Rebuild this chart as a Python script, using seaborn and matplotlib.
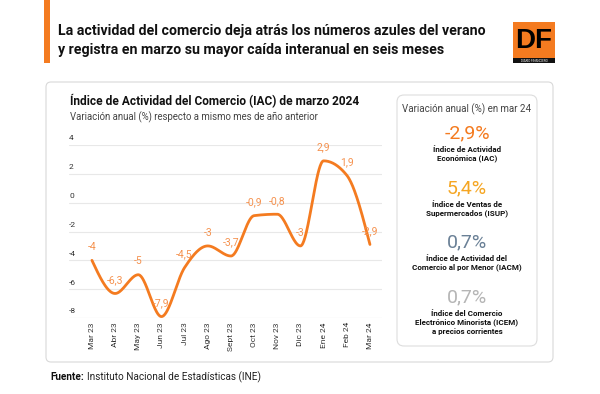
import numpy as np
import matplotlib
matplotlib.use("Agg")
import matplotlib.pyplot as plt
from matplotlib.patches import FancyBboxPatch, Rectangle
import seaborn as sns

# datos
meses = ["Mar 23", "Abr 23", "May 23", "Jun 23", "Jul 23", "Ago 23", "Sept 23",
         "Oct 23", "Nov 23", "Dic 23", "Ene 24", "Feb 24", "Mar 24"]
iac = [-4, -6.3, -5, -7.9, -4.5, -3, -3.7, -0.9, -0.8, -3, 2.9, 1.9, -2.9]
y_ticks = [4, 2, 0, -2, -4, -6, -8]

panel_valores = ["-2,9%", "5,4%", "0,7%", "0,7%"]
panel_nombres = ["Índice de Actividad\nEconómica (IAC)",
                 "Índice de Ventas de\nSupermercados (ISUP)",
                 "Índice de Actividad del\nComercio al por Menor (IACM)",
                 "Índice del Comercio\nElectrónico Minorista (ICEM)\na precios corrientes"]
panel_colores = ["#f47b20", "#f5a623", "#6a8096", "#b5b5b5"]

NARANJA = "#f47b20"
NARANJA_TXT = "#f5924f"

sns.set_theme(style="white")
plt.rcParams['font.family'] = ['Roboto', 'DejaVu Sans']

W, H = 600, 394
fig = plt.figure(figsize=(W / 100, H / 100), dpi=100)


def fx(x):
    return x / W


def fy(y):
    return 1 - y / H


def caja(x0, y0, x1, y1, r=6, ec="#d9d9d9", fc="white", lw=0.8):
    # caja redondeada en pixeles, detras de los ejes
    p = FancyBboxPatch((x0 / 100, (H - y1) / 100), (x1 - x0) / 100, (y1 - y0) / 100,
                       boxstyle="round,pad=0,rounding_size=%f" % (r / 100),
                       transform=fig.dpi_scale_trans, ec=ec, fc=fc, lw=lw, zorder=-5)
    fig.patches.append(p)


# barra naranja y titulo
fig.patches.append(Rectangle((fx(44), fy(63)), fx(6), 63 / H, transform=fig.transFigure,
                             color=NARANJA, lw=0))
fig.text(fx(58), fy(31), "La actividad del comercio deja atrás los números azules del verano",
         fontsize=10.2, fontweight="bold", color="#111111", va="center")
fig.text(fx(58), fy(50), "y registra en marzo su mayor caída interanual en seis meses",
         fontsize=10.2, fontweight="bold", color="#111111", va="center")

# logo DF
fig.patches.append(Rectangle((fx(513), fy(58)), fx(42), 36 / H, transform=fig.transFigure,
                             color=NARANJA, lw=0))
fig.patches.append(Rectangle((fx(513), fy(63)), fx(42), 5 / H, transform=fig.transFigure,
                             color="#111111", lw=0))
fig.text(fx(534), fy(41), "DF", fontsize=20, fontweight="bold", color="black",
         ha="center", va="center", family=["Liberation Sans", "DejaVu Sans"])
fig.text(fx(534), fy(60.5), "DIARIO FINANCIERO", fontsize=2.2, color="white",
         ha="center", va="center")

# panel principal
caja(46, 82, 553, 362, r=5)
fig.text(fx(70), fy(101), "Índice de Actividad del Comercio (IAC) de marzo 2024",
         fontsize=8.6, fontweight="bold", color="#111111", va="center")
fig.text(fx(70), fy(117), "Variación anual (%) respecto a mismo mes de año anterior",
         fontsize=6.9, color="#444444", va="center")

# grafico
ax = fig.add_axes([fx(69), fy(318), (382 - 69) / W, (318 - 145) / H])
ax.patch.set_alpha(0)
x = np.arange(len(iac), dtype=float)
y = np.array(iac, dtype=float)


def monotone(x, y, n=40):
    # curva monotona (tipo d3.curveMonotoneX) que pasa por los puntos
    h = np.diff(x)
    s = np.diff(y) / h
    t = np.zeros(len(x))
    for i in range(1, len(x) - 1):
        p = (s[i - 1] * h[i] + s[i] * h[i - 1]) / (h[i - 1] + h[i])
        t[i] = (np.sign(s[i - 1]) + np.sign(s[i])) * min(abs(s[i - 1]), abs(s[i]), 0.5 * abs(p))
    t[0] = (3 * s[0] - t[1]) / 2
    t[-1] = (3 * s[-1] - t[-2]) / 2
    xs, ys = [], []
    for i in range(len(x) - 1):
        u = np.linspace(0, 1, n, endpoint=(i == len(x) - 2))
        h00 = 2 * u**3 - 3 * u**2 + 1
        h10 = u**3 - 2 * u**2 + u
        h01 = -2 * u**3 + 3 * u**2
        h11 = u**3 - u**2
        xs.append(x[i] + u * h[i])
        ys.append(h00 * y[i] + h10 * h[i] * t[i] + h01 * y[i + 1] + h11 * h[i] * t[i + 1])
    return np.concatenate(xs), np.concatenate(ys)


cx, cy = monotone(x, y)
sns.lineplot(x=cx, y=cy, sort=False, color=NARANJA, linewidth=2.0, ax=ax)

for xi, yi in zip(x, y):
    txt = ("%g" % yi).replace(".", ",")
    ax.annotate(txt, (xi, yi), xytext=(0, 6), textcoords="offset points",
                ha="center", va="bottom", fontsize=7.5, color=NARANJA_TXT, annotation_clip=False)

for v in y_ticks:
    ax.axhline(v, color="#cfcfcf" if v == -8 else "#e8e8e8", lw=0.8, zorder=0)
    ax.text(0, v + 0.25, str(v), transform=ax.get_yaxis_transform(), fontsize=6,
            color="#333333", ha="left", va="bottom")

ax.set_xlim(-0.99, 12.52)
ax.set_ylim(-8, 4)
ax.set_yticks([])
ax.set_xticks(x)
ax.set_xticklabels(meses, rotation=90, fontsize=6, color="#333333")
ax.tick_params(axis="x", length=0, pad=3)
for s in ax.spines.values():
    s.set_visible(False)

# panel derecho
caja(397, 95, 537, 346, r=7, ec="#dddddd")
cxp = fx(467)
fig.text(cxp, fy(109), "Variación anual (%) en mar 24", fontsize=7, color="#444444",
         ha="center", va="center")
val_y = [133, 188, 242, 297]
for val, nom, col, vy in zip(panel_valores, panel_nombres, panel_colores, val_y):
    fig.text(cxp, fy(vy), val, fontsize=14, color=col, ha="center", va="center")
    fig.text(cxp, fy(vy + 13), nom, fontsize=5.8, fontweight="bold", color="#111111",
             ha="center", va="top", linespacing=1.25)

# fuente
r = fig.canvas.get_renderer()
t1 = fig.text(fx(50), fy(377), "Fuente:", fontsize=7.2, fontweight="bold", color="#111111",
              va="center")
bb = t1.get_window_extent(renderer=r)
fig.text((bb.x1 + 3) / W, fy(377), "Instituto Nacional de Estadísticas (INE)", fontsize=7.2,
         color="#222222", va="center")

fig.savefig("out.png", dpi=100, facecolor="white")
